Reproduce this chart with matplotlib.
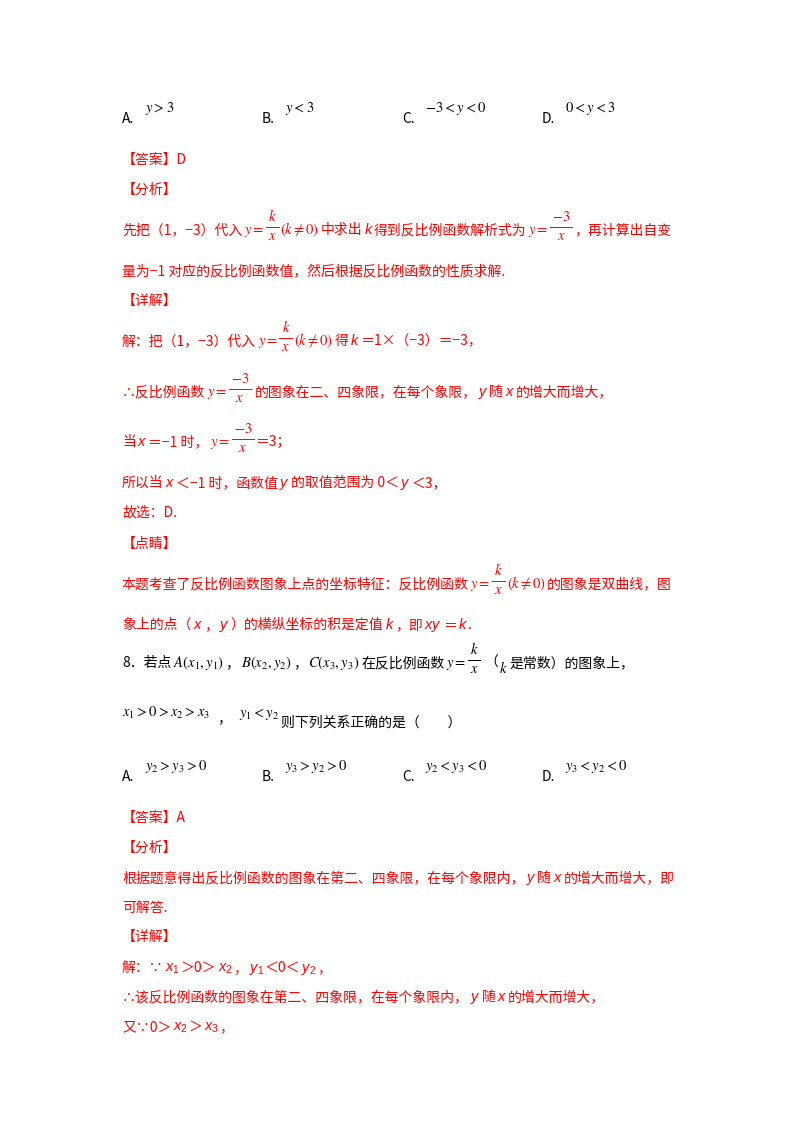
import matplotlib
matplotlib.use("Agg")
import matplotlib.pyplot as plt
from matplotlib.lines import Line2D

plt.rcParams['font.family'] = ['Noto Sans CJK SC', 'DejaVu Sans']
plt.rcParams['mathtext.fontset'] = 'custom'
plt.rcParams['mathtext.it'] = 'Liberation Sans:italic'
plt.rcParams['mathtext.rm'] = 'Liberation Sans'

RED = '#ff0000'
BLACK = '#000000'

# --- page text ---
# segment kinds: 'z' plain (CJK) text, 'i' italic sans variable, 'm' Times style formula,
# 'f' Times style fraction (numerator, denominator), 'g' gap
opt_labels = ['A.', 'B.', 'C.', 'D.']
q7_opts = [r'y>3', r'y<3', r'-3<y<0', r'0<y<3']
q8_opts = [r'y_2>y_3>0', r'y_3>y_2>0', r'y_2<y_3<0', r'y_3<y_2<0']

FRAC_K = [('m', r'y='), ('f', ('k', 'x')), ('m', r'\left(k\neq 0\right)')]
FRAC_M3 = [('m', r'y='), ('f', ('-3', 'x'))]

q7_solution = [
    [('z', '【答案】D')],
    [('z', '【分析】')],
    [('z', '先把（1，−3）代入')] + FRAC_K + [('z', '中求出'), ('i', 'k'),
     ('z', '得到反比例函数解析式为')] + FRAC_M3 + [('z', '，再计算出自变')],
    [('z', '量为−1 对应的反比例函数值，然后根据反比例函数的性质求解.')],
    [('z', '【详解】')],
    [('z', '解：把（1，−3）代入')] + FRAC_K + [('z', '得'), ('i', 'k'),
     ('z', '＝1×（−3）＝−3，')],
    [('z', '∴反比例函数')] + FRAC_M3 + [('g', 2), ('z', '的图象在二、四象限，在每个象限，'),
     ('i', 'y'), ('z', '随'), ('i', 'x'), ('z', '的增大而增大，')],
    [('z', '当'), ('i', 'x'), ('z', '＝−1 时，')] + FRAC_M3 + [('z', '＝3；')],
    [('z', '所以当'), ('i', 'x'), ('z', '＜−1 时，函数值'), ('i', 'y'),
     ('z', '的取值范围为 0＜'), ('i', 'y'), ('z', '＜3，')],
    [('z', '故选：D.')],
    [('z', '【点睛】')],
    [('z', '本题考查了反比例函数图象上点的坐标特征：反比例函数')] + FRAC_K +
    [('z', '的图象是双曲线，图')],
    [('z', '象上的点（'), ('i', 'x'), ('z', '，'), ('i', 'y'), ('z', '）的横纵坐标的积是定值'),
     ('i', 'k'), ('z', '，即'), ('i', 'xy'), ('z', '＝'), ('i', 'k'), ('z', '.')],
]

q8_stem = [
    [('z', '8．若点'), ('m', r'A\left(x_1,y_1\right)'), ('z', '，'), ('m', r'B\left(x_2,y_2\right)'),
     ('z', '，'), ('m', r'C\left(x_3,y_3\right)'), ('z', '在反比例函数'), ('m', r'y='),
     ('f', ('k', 'x')), ('g', 2), ('z', '（'), ('m', 'k', 6), ('z', '是常数）的图象上，')],
    [('m', r'x_1>0>x_2>x_3', -10), ('g', 6), ('z', '，', -5), ('g', 6), ('m', r'y_1<y_2', -10),
     ('z', '则下列关系正确的是（　　）')],
]

q8_solution = [
    [('z', '【答案】A')],
    [('z', '【分析】')],
    [('z', '根据题意得出反比例函数的图象在第二、四象限，在每个象限内，'), ('i', 'y'),
     ('z', '随'), ('i', 'x'), ('z', '的增大而增大，即')],
    [('z', '可解答.')],
    [('z', '【详解】')],
    [('z', '解：∵'), ('i', 'x_1'), ('z', '＞0＞'), ('i', 'x_2'), ('z', '，'), ('i', 'y_1'),
     ('z', '＜0＜'), ('i', 'y_2'), ('z', '，')],
    [('z', '∴该反比例函数的图象在第二、四象限，在每个象限内，'), ('i', 'y'),
     ('z', '随'), ('i', 'x'), ('z', '的增大而增大，')],
    [('z', '又∵0＞'), ('i', 'x_2'), ('z', '＞'), ('i', 'x_3'), ('z', '，')],
]

# --- layout (pixels from top-left) ---
W, H = 800, 1132
LEFT = 122
opt_x = [122, 262, 402, 542]
q7_opt_y = 123
q7_sol_y = [164, 194, 234, 276, 305, 345, 396, 446, 487, 516, 548, 588, 629]
q8_stem_y = [667, 727]
q8_opt_y = 781
q8_sol_y = [822, 852, 882, 912, 941, 972, 1001, 1031]

fig = plt.figure(figsize=(W / 100, H / 100), dpi=100)
fig.patch.set_facecolor('white')
renderer = fig.canvas.get_renderer()


def text_at(x, y, s, color, kind):
    kw = dict(color=color, va='baseline', ha='left')
    if kind == 'z':
        return fig.text(x / W, 1 - y / H, s, fontsize=10, **kw)
    if kind == 'i':
        return fig.text(x / W, 1 - y / H, '$' + s + '$', fontsize=10.5,
                        math_fontfamily='custom', **kw)
    return fig.text(x / W, 1 - y / H, '$' + s + '$', fontsize=10.5,
                    math_fontfamily='stix', **kw)


def put(x, y, kind, s, color):
    if kind == 'f':
        num, den = s
        tn = text_at(x, y - 13, num, color, 'm')
        td = text_at(x, y + 6, den, color, 'm')
        wn = tn.get_window_extent(renderer).width
        wd = td.get_window_extent(renderer).width
        w = max(wn, wd) + 4
        tn.set_x((x + (w - wn) / 2) / W)
        td.set_x((x + (w - wd) / 2) / W)
        fig.add_artist(Line2D([x / W, (x + w) / W], [1 - (y - 7) / H] * 2,
                              transform=fig.transFigure, lw=0.7, color=color))
        return w
    t = text_at(x, y, s, color, kind)
    w = t.get_window_extent(renderer).width
    if kind == 'i':
        w -= 1
    return w


def put_line(y, segs, color):
    x = LEFT
    for seg in segs:
        kind, s = seg[0], seg[1]
        dy = seg[2] if len(seg) > 2 else 0
        if kind == 'g':
            x += s
            continue
        x += put(x, y + dy, kind, s, color) + 1.5


def put_options(y, maths):
    for lab, m, x in zip(opt_labels, maths, opt_x):
        put(x, y, 'z', lab, BLACK)
        put(x + 23, y - 11, 'm', m, BLACK)


put_options(q7_opt_y, q7_opts)
for y, segs in zip(q7_sol_y, q7_solution):
    put_line(y, segs, RED)
for y, segs in zip(q8_stem_y, q8_stem):
    put_line(y, segs, BLACK)
put_options(q8_opt_y, q8_opts)
for y, segs in zip(q8_sol_y, q8_solution):
    put_line(y, segs, RED)

fig.savefig('out.png', dpi=100, facecolor='white')
